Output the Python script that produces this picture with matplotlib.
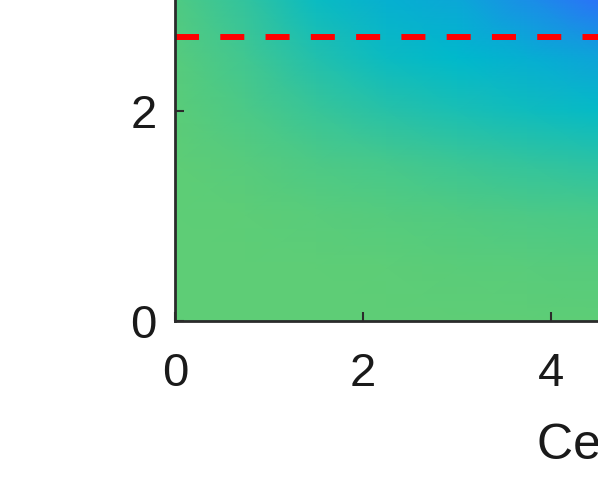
#!/usr/bin/env python3
# Cropped view of a 2D colour field with a dashed threshold line.
import matplotlib

matplotlib.use("Agg")
import matplotlib.pyplot as plt
import numpy as np
from matplotlib.colors import LinearSegmentedColormap

plt.rcParams["font.family"] = ["Liberation Sans", "DejaVu Sans"]

# grid nodes (data units) and the field value read at each node
x_nodes = [0.0, 0.75, 1.5, 2.25, 3.0, 3.75, 4.6]
y_nodes = [0.0, 0.5, 1.0, 1.5, 2.0, 2.5, 3.1]
field_rows = [
    [0.00, 0.00, 0.00, 0.00, 0.00, 0.00, 0.01],
    [0.00, 0.00, 0.00, 0.01, 0.02, 0.03, 0.04],
    [0.00, 0.01, 0.03, 0.05, 0.07, 0.09, 0.11],
    [0.00, 0.04, 0.09, 0.13, 0.18, 0.23, 0.28],
    [0.02, 0.10, 0.20, 0.29, 0.36, 0.42, 0.48],
    [0.04, 0.16, 0.32, 0.44, 0.50, 0.56, 0.64],
    [0.08, 0.24, 0.45, 0.56, 0.62, 0.78, 0.97],
]
threshold = 2.7
x_ticks = [0, 2, 4]
y_ticks = [0, 2]

INK = "#2b2b2b"
cmap = LinearSegmentedColormap.from_list(
    "field", ["#5ecd76", "#00b9cc", "#3268ff"]
)

fig = plt.figure(figsize=(5.98, 4.89), dpi=100)
# axes run past the right and top edges (cropped view)
ax = fig.add_axes([175 / 598, 167.5 / 489, 4.6 * 94 / 598, 3.1 * 105 / 489])

X, Y = np.meshgrid(x_nodes, y_nodes)
ax.pcolormesh(X, Y, np.array(field_rows), cmap=cmap, vmin=0, vmax=1,
              shading="gouraud", rasterized=True)

ax.axhline(threshold, color="#ff0000", lw=4.3, ls=(0, (17.3 / 4.3, 15.3 / 4.3)))

ax.set_xlim(0, 4.6)
ax.set_ylim(0, 3.1)
ax.set_xticks(x_ticks)
ax.set_yticks(y_ticks)
ax.tick_params(direction="in", length=6.5, width=1.5, color=INK,
               labelsize=34, labelcolor="#1a1a1a")
ax.tick_params(axis="x", pad=22)
ax.tick_params(axis="y", pad=13)
for s in ax.spines.values():
    s.set_color(INK)
    s.set_linewidth(2.0)

ax.set_xlabel("Center distance (mm)", fontsize=36, color="#1a1a1a",
              ha="left", va="top")
ax.xaxis.set_label_coords((537 - 175) / (4.6 * 94), -(423 - 321.5) / (3.1 * 105))

fig.savefig("out.png", dpi=100)
